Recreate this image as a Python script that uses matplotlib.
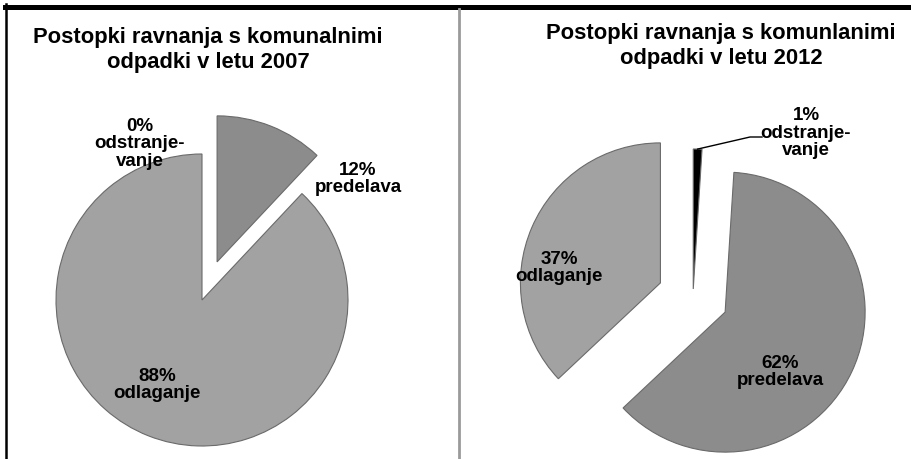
import numpy as np
import matplotlib.pyplot as plt
from matplotlib.lines import Line2D

plt.rcParams['font.family'] = ['Liberation Sans', 'DejaVu Sans']

# --- data
categories = ['odstranje-\nvanje', 'predelava', 'odlaganje']
share_2007 = [0, 12, 88]
share_2012 = [1, 62, 37]
titles = ['Postopki ravnanja s komunalnimi\nodpadki v letu 2007',
          'Postopki ravnanja s komunlanimi\nodpadki v letu 2012']

# --- styles / layout (pixel units, y up)
W, H = 912, 460
colors = ['#000000', '#8c8c8c', '#a2a2a2']
pies = [
    dict(values=share_2007, center=(202, 159), radius=146, explode=[0, 41, 0],
         title_xy=(208, 410),
         label_xy=[(140, 316), (358, 281), (157, 75)]),
    dict(values=share_2012, center=(693, 162), radius=140, explode=[8, 35.5, 35.5],
         title_xy=(721, 414),
         label_xy=[(806, 327), (780, 88), (559, 192)]),
]

fig = plt.figure(figsize=(W/100, H/100), dpi=100)
ax = fig.add_axes([0, 0, 1, 1])

for p, title in zip(pies, titles):
    wedges, _ = ax.pie(p['values'], explode=p['explode'], colors=colors,
                       startangle=90, counterclock=False,
                       center=p['center'], radius=p['radius'],
                       wedgeprops=dict(edgecolor='#6a6a6a', linewidth=0.8))
    for w, v in zip(wedges, p['values']):
        if v == 0:
            w.set_visible(False)
    for (lx, ly), v, name in zip(p['label_xy'], p['values'], categories):
        ax.text(lx, ly, f'{v}%\n{name}', ha='center', va='center', ma='center',
                fontsize=13.5, fontweight='bold', linespacing=1.05)
    tx, ty = p['title_xy']
    ax.text(tx, ty, title, ha='center', va='center', ma='center',
            fontsize=15.8, fontweight='bold', linespacing=1.2)

# leader line for the small 2012 slice
w = wedges[0]
mid = np.deg2rad((w.theta1 + w.theta2) / 2)
tip = (w.center[0] + w.r * np.cos(mid), w.center[1] + w.r * np.sin(mid))
ax.plot([tip[0], 750, 762], [tip[1], 322, 322], color='black', lw=1)

# frame lines
fig.add_artist(Line2D([5/W, 1], [452.5/H, 452.5/H], color='black', lw=3.6))
fig.add_artist(Line2D([6/W, 6/W], [0, 455/H], color='black', lw=1.8))
fig.add_artist(Line2D([459/W, 459/W], [0, 450/H], color='#9a9a9a', lw=2))

ax.set_xlim(0, W)
ax.set_ylim(0, H)
ax.set_aspect('equal')
ax.axis('off')

fig.savefig('out.png', dpi=100)
